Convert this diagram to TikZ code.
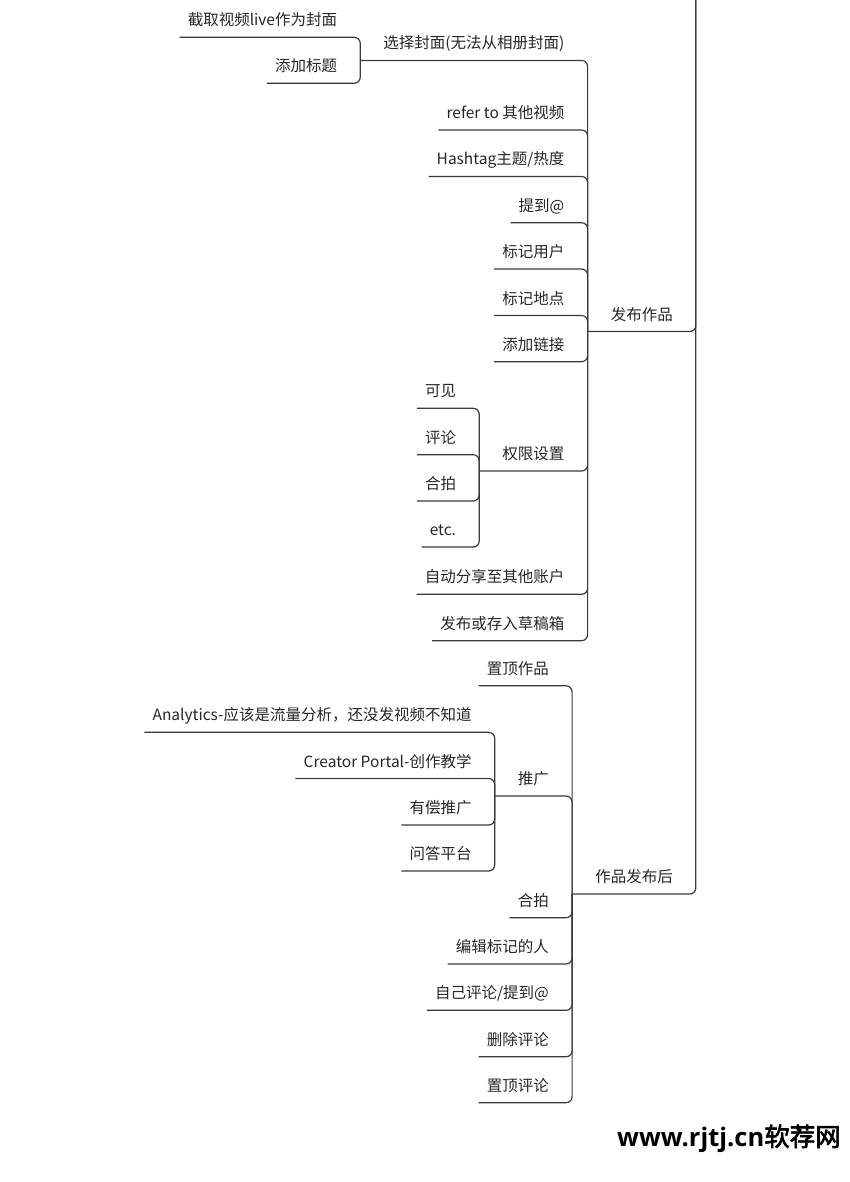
\documentclass[tikz,border=0pt]{standalone}
\usepackage{fontspec}
\setmainfont{Noto Sans CJK SC}
\newfontfamily\wmfont[AutoFakeBold=2.5]{Noto Sans CJK SC}
\newfontfamily\wmlat{Open Sans}
\definecolor{ink}{HTML}{262626}
\definecolor{linec}{HTML}{3A3A3A}
\newcommand\conn[2]{\draw[link] (#1.south west) -- (#1.south west -| #2.south west) -- (#2.south west);}
\begin{document}
\begin{tikzpicture}[x=1pt,y=-1pt,
  topic/.style={anchor=south east, text=ink, font=\fontsize{15.5pt}{18pt}\selectfont,
    text height=11pt, text depth=8.3pt, inner ysep=3pt},
  leaf/.style={topic, inner xsep=8pt},
  branch/.style={topic, inner xsep=23pt},
  link/.style={draw=linec, line width=1.2pt, rounded corners=6pt}]
\useasboundingbox (0,0) rectangle (850,1182);
\node[inner sep=0pt, minimum size=0pt] (root) at (696,0) {};
% ---- 发布作品
\node[branch] (pub) at (696,331.5) {发布作品};
\conn{pub}{root}
\node[branch] (sel) at (pub.south west |- 0,60.5) {选择封面(无法从相册封面)};
\node[leaf] (jq) at ([xshift=-15pt]sel.south west |- 0,37.3) {截取视频live作为封面};
\node[leaf] (bt) at ([xshift=-15pt]sel.south west |- 0,83.3) {添加标题};
\node[leaf] (ref) at ([xshift=-15pt]pub.south west |- 0,130) {refer to 其他视频};
\node[leaf] (hash) at ([xshift=-15pt]pub.south west |- 0,176.5) {Hashtag主题/热度};
\node[leaf] (at) at ([xshift=-15pt]pub.south west |- 0,222.7) {提到@};
\node[leaf] (user) at ([xshift=-15pt]pub.south west |- 0,269) {标记用户};
\node[leaf] (loc) at ([xshift=-15pt]pub.south west |- 0,315.5) {标记地点};
\node[leaf] (lnk) at ([xshift=-15pt]pub.south west |- 0,361.7) {添加链接};
\node[branch] (qx) at (pub.south west |- 0,471) {权限设置};
\node[leaf] (kj) at ([xshift=-15pt]qx.south west |- 0,408.3) {可见};
\node[leaf] (pl) at ([xshift=-15pt]qx.south west |- 0,454.7) {评论};
\node[leaf] (hp) at ([xshift=-15pt]qx.south west |- 0,501) {合拍};
\node[leaf] (etc) at ([xshift=-15pt]qx.south west |- 0,547) {etc.};
\node[leaf] (share) at ([xshift=-15pt]pub.south west |- 0,594.3) {自动分享至其他账户};
\node[leaf] (draft) at ([xshift=-15pt]pub.south west |- 0,640.7) {发布或存入草稿箱};
\conn{sel}{pub}
\conn{jq}{sel}
\conn{bt}{sel}
\conn{ref}{pub}
\conn{hash}{pub}
\conn{at}{pub}
\conn{user}{pub}
\conn{loc}{pub}
\conn{lnk}{pub}
\conn{qx}{pub}
\conn{kj}{qx}
\conn{pl}{qx}
\conn{hp}{qx}
\conn{etc}{qx}
\conn{share}{pub}
\conn{draft}{pub}
% ---- 作品发布后
\node[branch] (fa) at (696,894) {作品发布后};
\conn{fa}{root}
\node[leaf] (zdzp) at ([xshift=-15pt]fa.south west |- 0,685.8) {置顶作品};
\node[branch] (tg) at (fa.south west |- 0,796) {推广};
\node[leaf] (ana) at ([xshift=-15pt]tg.south west |- 0,732.3) {Analytics-应该是流量分析，还没发视频不知道};
\node[leaf] (cp) at ([xshift=-15pt]tg.south west |- 0,778.5) {Creator Portal-创作教学};
\node[leaf] (ych) at ([xshift=-15pt]tg.south west |- 0,825) {有偿推广};
\node[leaf] (wd) at ([xshift=-15pt]tg.south west |- 0,871) {问答平台};
\node[leaf] (hp2) at ([xshift=-15pt]fa.south west |- 0,917.7) {合拍};
\node[leaf] (bj) at ([xshift=-15pt]fa.south west |- 0,964) {编辑标记的人};
\node[leaf] (zj) at ([xshift=-15pt]fa.south west |- 0,1010.3) {自己评论/提到@};
\node[leaf] (sc) at ([xshift=-15pt]fa.south west |- 0,1056.7) {删除评论};
\node[leaf] (zdpl) at ([xshift=-15pt]fa.south west |- 0,1102.7) {置顶评论};
\conn{zdzp}{fa}
\conn{tg}{fa}
\conn{ana}{tg}
\conn{cp}{tg}
\conn{ych}{tg}
\conn{wd}{tg}
\conn{hp2}{fa}
\conn{bj}{fa}
\conn{zj}{fa}
\conn{sc}{fa}
\conn{zdpl}{fa}
% ---- watermark
\node[anchor=base east, inner sep=0pt, text=black, font=\bfseries\fontsize{25.5pt}{30pt}\selectfont] (wm) at (841,1146) {{\wmlat\bfseries www.rjtj.cn}{\wmfont\bfseries 软荐网}};
\end{tikzpicture}
\end{document}
